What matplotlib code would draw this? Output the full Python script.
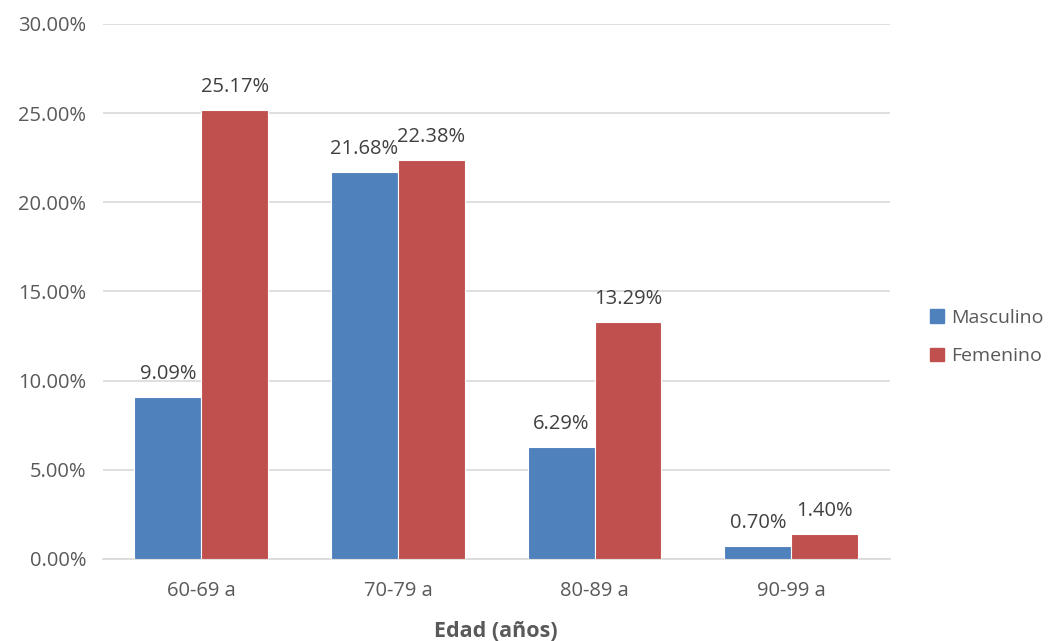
import numpy as np
import matplotlib.pyplot as plt
from matplotlib.patches import Patch
from matplotlib.ticker import PercentFormatter

plt.rcParams['font.family'] = ['Open Sans', 'DejaVu Sans']

grupos = ["60-69 a", "70-79 a", "80-89 a", "90-99 a"]
masculino = [9.09, 21.68, 6.29, 0.70]
femenino = [25.17, 22.38, 13.29, 1.40]

azul = "#4F81BD"
rojo = "#C0504D"
texto = "#595959"

fig = plt.figure(figsize=(10.53, 6.41), dpi=100)
ax = fig.add_axes([0.0978, 0.128, 0.747, 0.8348])

x = np.arange(len(grupos))
ancho = 0.34
b1 = ax.bar(x - ancho / 2, masculino, ancho, color=azul, edgecolor="white", linewidth=0.8, zorder=3)
b2 = ax.bar(x + ancho / 2, femenino, ancho, color=rojo, edgecolor="white", linewidth=0.8, zorder=3)

# etiquetas de valor sobre cada barra
for barras, valores in ((b1, masculino), (b2, femenino)):
    for b, v in zip(barras, valores):
        ax.annotate(f"{v:.2f}%", (b.get_x() + b.get_width() / 2, v),
                    xytext=(0, 13), textcoords="offset points",
                    ha="center", va="baseline", fontsize=14.5, color="#404040")

ax.set_xlim(-0.5, 3.5)
ax.set_ylim(0, 30)
ax.set_yticks(np.arange(0, 31, 5))
ax.yaxis.set_major_formatter(PercentFormatter(decimals=2))
ax.set_xticks(x)
ax.set_xticklabels(grupos)
ax.tick_params(axis="both", length=0, labelsize=14.5, labelcolor=texto)
ax.tick_params(axis="x", pad=16)
ax.tick_params(axis="y", pad=12)
ax.grid(axis="y", color="#D9D9D9", linewidth=1.2, zorder=0)
for s in ("top", "right", "left"):
    ax.spines[s].set_visible(False)
ax.spines["bottom"].set_color("#D9D9D9")
ax.spines["bottom"].set_linewidth(1.2)

ax.set_xlabel("Edad (años)", fontsize=15.5, fontweight="bold", color=texto, labelpad=14)

handles = [Patch(color=azul, label="Masculino"), Patch(color=rojo, label="Femenino")]
fig.legend(handles=handles, loc="center left", bbox_to_anchor=(0.867, 0.474),
           frameon=False, fontsize=14, labelcolor=texto,
           handlelength=0.7, handleheight=0.7, handletextpad=0.35, labelspacing=1.05)

fig.savefig("out.png", dpi=100)
